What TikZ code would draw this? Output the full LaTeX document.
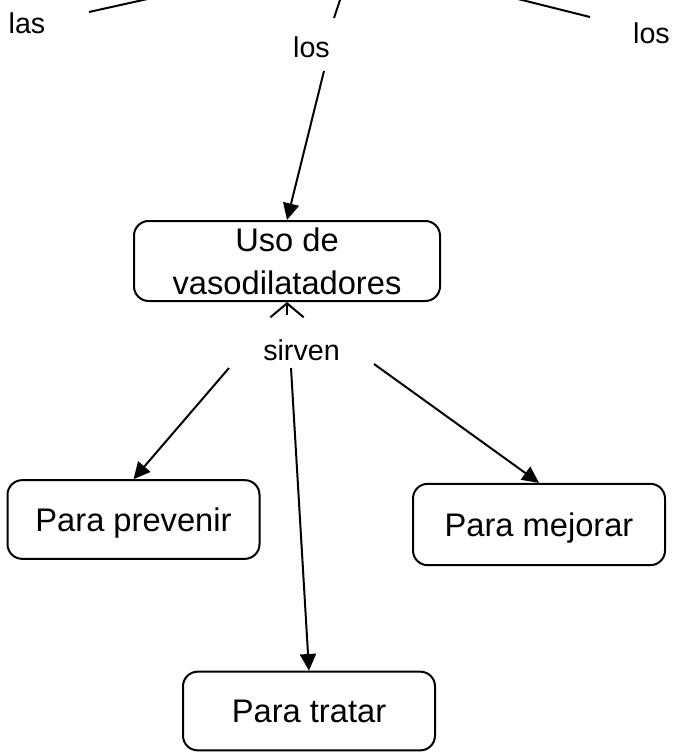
\documentclass[tikz,border=0pt]{standalone}
\usepackage{fontspec}
\setmainfont{Liberation Sans}
\usetikzlibrary{arrows.meta}

\tikzset{
  concept/.style={draw, line width=1.5pt, rounded corners=11pt, minimum width=189pt,
    minimum height=59pt, align=center, inner sep=0pt, text depth=0pt,
    font=\fontsize{24.5}{32}\selectfont},
  linking/.style={inner sep=0pt, font=\fontsize{21.5}{26}\selectfont},
  link/.style={line width=1.5pt},
  arrowlink/.style={link, -{Triangle[length=12.5pt,width=12pt]}},
  openlink/.style={link, -{Straight Barb[length=10.5pt,width=25pt]}}
}

\begin{document}
\begin{tikzpicture}[x=0.75pt,y=-0.75pt]
  \clip (0,0) rectangle (679,756);

  % concepts
  \node[concept, minimum width=229.5pt, minimum height=60pt] (uso) at (287,261) {Uso de\\vasodilatadores};
  \node[concept] (prevenir) at (133.5,519.5) {Para prevenir};
  \node[concept, minimum height=61pt] (mejorar) at (539,524.5) {Para mejorar};
  \node[concept] (tratar) at (309,711) {Para tratar};

  % linking phrases
  \node[linking] (las) at (27,23) {las};
  \node[linking] (losmid) at (311.5,47) {los};
  \node[linking] (losright) at (651.5,33) {los};
  \node[linking] (sirven) at (301.5,350) {sirven};

  % ends above the frame
  \coordinate (aboveleft) at (170,-6);
  \coordinate (abovemid) at (342,-6);
  \coordinate (aboveright) at (498,-6);

  \draw[link] ([shift={(62,-11)}]las.center) -- (aboveleft);
  \draw[link] ([shift={(22.5,-29)}]losmid.center) -- (abovemid);
  \draw[link] ([shift={(-61.5,-16)}]losright.center) -- (aboveright);
  \draw[arrowlink] ([shift={(12.5,24)}]losmid.center) -- (uso.north);

  \draw[openlink] ([shift={(-14.5,-35)}]sirven.center) -- (uso.south);
  \draw[arrowlink] ([shift={(-72.5,18)}]sirven.center) -- (prevenir.north);
  \draw[arrowlink] ([shift={(-10.5,18)}]sirven.center) -- (tratar.north);
  \draw[arrowlink] ([shift={(72.5,14)}]sirven.center) -- (mejorar.north);
\end{tikzpicture}
\end{document}
